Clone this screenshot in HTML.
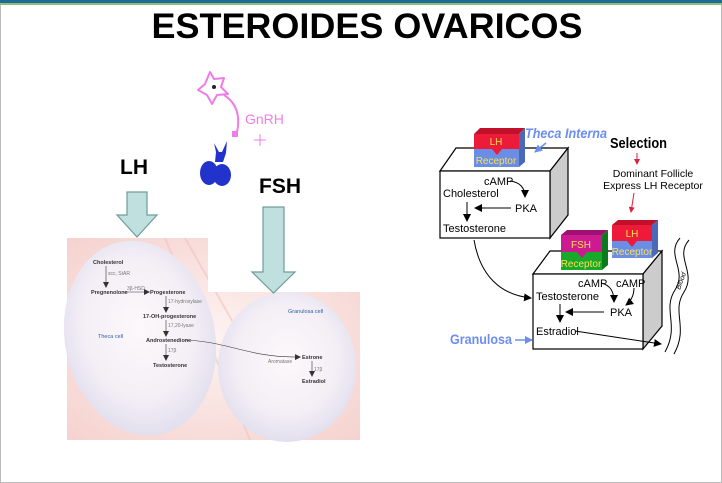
<!DOCTYPE html>
<html><head><meta charset="utf-8"><style>
html,body{margin:0;padding:0;background:#fff;}
svg{display:block;font-family:"Liberation Sans",sans-serif;}
</style></head><body>
<svg width="722" height="483" viewBox="0 0 722 483" xmlns="http://www.w3.org/2000/svg">
<defs>
<radialGradient id="bg" cx="0.5" cy="0.5" r="0.7"><stop offset="0" stop-color="#fdf3f1"/><stop offset="1" stop-color="#f5d2cf"/></radialGradient>
<radialGradient id="cell" cx="0.5" cy="0.45" r="0.6"><stop offset="0" stop-color="#fdf8fa"/><stop offset="0.6" stop-color="#f4eff6"/><stop offset="0.9" stop-color="#e3e0ef"/><stop offset="1" stop-color="#d6d4e8"/></radialGradient>
<marker id="ah" markerWidth="8" markerHeight="8" refX="7" refY="4" orient="auto" markerUnits="userSpaceOnUse"><path d="M0,0 L8,4 L0,8 z" fill="#000"/></marker>
<marker id="ahs" markerWidth="6" markerHeight="6" refX="5" refY="3" orient="auto" markerUnits="userSpaceOnUse"><path d="M0,0 L6,3 L0,6 z" fill="#333"/></marker>
<marker id="ahr" markerWidth="6" markerHeight="6" refX="5" refY="3" orient="auto" markerUnits="userSpaceOnUse"><path d="M0,0 L6,3 L0,6 z" fill="#e0203a"/></marker>
<marker id="ahb" markerWidth="8" markerHeight="8" refX="7" refY="4" orient="auto" markerUnits="userSpaceOnUse"><path d="M0,0 L8,4 L0,8 z" fill="#6b8ef0"/></marker>
</defs>
<rect x="0.5" y="0.5" width="721" height="482" fill="#fff" stroke="#bbb"/>
<rect x="0" y="0" width="722" height="3" fill="#1f6a9a"/>
<rect x="0" y="3" width="722" height="2" fill="#8cc06a"/>
<text x="367" y="38" font-size="35" font-weight="bold" text-anchor="middle" textLength="431" lengthAdjust="spacingAndGlyphs">ESTEROIDES OVARICOS</text>

<!-- left image -->
<rect x="67" y="238" width="293" height="202" fill="url(#bg)"/>
<path d="M165 238 L250 440 M185 238 L300 440" stroke="#f2c4c1" stroke-width="2" opacity="0.6"/>
<ellipse cx="140" cy="338" rx="75" ry="98" fill="url(#cell)" transform="rotate(-12 140 338)"/>
<ellipse cx="287" cy="367" rx="69" ry="75" fill="url(#cell)"/>
<rect x="208" y="238" width="152" height="54" fill="#fff"/>
<g font-size="5.5" fill="#333" font-weight="bold">
<text x="93" y="264">Cholesterol</text>
<text x="91" y="294">Pregnenolone</text>
<text x="150" y="294">Progesterone</text>
<text x="143" y="318">17-OH-progesterone</text>
<text x="146" y="342">Androstenedione</text>
<text x="153" y="367">Testosterone</text>
<text x="302" y="359">Estrone</text>
<text x="302" y="383">Estradiol</text>
</g>
<g font-size="5" fill="#777">
<text x="108" y="275">scc, StAR</text><text x="127" y="290">3β-HSD</text>
<text x="168" y="303">17-hydroxylase</text><text x="168" y="327">17,20-lyase</text>
<text x="168" y="352">17β</text><text x="268" y="363">Aromatase</text><text x="314" y="371">17β</text>
</g>
<g font-size="5.5" fill="#2a5ea8"><text x="98" y="338">Theca cell</text><text x="288" y="313">Granulosa cell</text></g>
<g stroke="#333" stroke-width="0.6" fill="none" marker-end="url(#ahs)">
<path d="M106 266 V287"/><path d="M124 292 H149"/><path d="M166 296 V312"/><path d="M166 320 V336"/><path d="M166 344 V360"/><path d="M312 361 V376"/>
<path d="M186 340 C230 342 250 358 300 357"/>
</g>

<!-- neuron -->
<g stroke="#f07ce8" stroke-width="2" fill="none" stroke-linejoin="round">
<path d="M210 72 L214 79 L224 78 L221 87 L228 94 L217 95 L212 104 L207 95 L198 90 L205 84 Z"/>
<path d="M224 95 C238 104 240 118 237 132"/>
<path d="M254 140 H266 M260 134 V146" stroke-width="1"/>
</g>
<circle cx="214" cy="87" r="2" fill="#222"/>
<rect x="232" y="131" width="6" height="6" fill="#f07ce8"/>
<text x="245" y="124" font-size="14" fill="#f07ce8">GnRH</text>
<g fill="#2233cc">
<path d="M214 143 L219 152 L222 152 L227 141 L226 153 L223 162 L215 162 L216 152 Z"/>
<ellipse cx="209" cy="173" rx="9" ry="12"/>
<ellipse cx="222" cy="175" rx="9" ry="11"/>
</g>

<text x="120" y="174" font-size="21" font-weight="bold">LH</text>
<text x="259" y="193" font-size="21" font-weight="bold">FSH</text>
<path d="M127 192 H147 V215 H157 L137 237 L117 215 H127 Z" fill="#bfe0de" stroke="#6f9c9a" stroke-width="1.2"/>
<path d="M263 207 H284 V272 H295 L273.5 293 L252 272 H263 Z" fill="#bfe0de" stroke="#6f9c9a" stroke-width="1.2"/>

<!-- right diagram: theca box -->
<g stroke="#000" stroke-width="1.2">
<path d="M440 171 L456 148 L568 148 L550 171 Z" fill="#fff"/>
<path d="M550 171 L568 148 L568 215 L550 238 Z" fill="#ccc"/>
<rect x="440" y="171" width="110" height="67" fill="#fff"/>
</g>
<path d="M474 134 L480 128 L525 128 L519 134 Z" fill="#c0102a"/>
<path d="M519 134 L525 128 L525 162 L519 167 Z" fill="#4a6ab8"/>
<rect x="474" y="134" width="45" height="15" fill="#ee1a3a"/>
<rect x="474" y="149" width="45" height="18" fill="#6a8ee6"/>
<path d="M492 149 L497 155 L502 149 Z" fill="#ee1a3a"/>
<text x="496" y="145" font-size="10" fill="#ffe050" text-anchor="middle">LH</text>
<text x="496" y="164" font-size="10" fill="#ffe050" text-anchor="middle">Receptor</text>

<text x="525" y="138" font-size="14" font-weight="bold" font-style="italic" fill="#6b8ef0" textLength="82" lengthAdjust="spacingAndGlyphs">Theca Interna</text>
<path d="M546 143 L535 152" stroke="#6b8ef0" stroke-width="1.5" marker-end="url(#ahb)"/>
<text x="610" y="148" font-size="15" font-weight="bold" textLength="57" lengthAdjust="spacingAndGlyphs">Selection</text>
<path d="M637 153 V164" stroke="#e0203a" stroke-width="1" marker-end="url(#ahr)"/>
<text x="653" y="177" font-size="10.5" text-anchor="middle">Dominant Follicle</text>
<text x="653" y="189" font-size="10.5" text-anchor="middle">Express LH Receptor</text>
<path d="M634 193 L631 212" stroke="#e0203a" stroke-width="1" marker-end="url(#ahr)"/>

<g font-size="11">
<text x="484" y="185">cAMP</text>
<text x="443" y="197">Cholesterol</text>
<text x="515" y="212">PKA</text>
<text x="443" y="232">Testosterone</text>
</g>
<g stroke="#000" stroke-width="1" fill="none" marker-end="url(#ah)">
<path d="M510 181 C520 182 525 188 525 197"/>
<path d="M511 208 H475"/>
<path d="M467 202 V221"/>
</g>

<!-- granulosa box -->
<g stroke="#000" stroke-width="1.2">
<path d="M533 274 L550 251 L662 251 L643 274 Z" fill="#fff"/>
<path d="M643 274 L662 251 L662 326 L643 349 Z" fill="#ccc"/>
<rect x="533" y="274" width="110" height="75" fill="#fff"/>
</g>
<path d="M561 235 L567 230 L608 230 L602 235 Z" fill="#a01070"/>
<path d="M602 235 L608 230 L608 265 L602 270 Z" fill="#0a7a1a"/>
<rect x="561" y="235" width="41" height="17" fill="#cc1a90"/>
<rect x="561" y="252" width="41" height="18" fill="#18a82a"/>
<path d="M577 252 L582 258 L587 252 Z" fill="#cc1a90"/>
<text x="581" y="248" font-size="10" fill="#ffe050" text-anchor="middle">FSH</text>
<text x="581" y="267" font-size="10" fill="#ffe050" text-anchor="middle">Receptor</text>
<path d="M612 225 L618 220 L658 220 L652 225 Z" fill="#c0102a"/>
<path d="M652 225 L658 220 L658 253 L652 258 Z" fill="#4a6ab8"/>
<rect x="612" y="225" width="40" height="16" fill="#ee1a3a"/>
<rect x="612" y="241" width="40" height="17" fill="#6a8ee6"/>
<path d="M627 241 L632 247 L637 241 Z" fill="#ee1a3a"/>
<text x="632" y="237" font-size="10" fill="#ffe050" text-anchor="middle">LH</text>
<text x="632" y="255" font-size="10" fill="#ffe050" text-anchor="middle">Receptor</text>

<g font-size="11">
<text x="578" y="287">cAMP</text>
<text x="616" y="287">cAMP</text>
<text x="536" y="300">Testosterone</text>
<text x="610" y="316">PKA</text>
<text x="536" y="335">Estradiol</text>
</g>
<g stroke="#000" stroke-width="1" fill="none" marker-end="url(#ah)">
<path d="M601 283 C610 285 614 291 614 302"/>
<path d="M634 288 C634 296 630 302 626 305"/>
<path d="M604 312 H566"/>
<path d="M560 304 V322"/>
<path d="M575 331 L661 344"/>
<path d="M474 240 C480 275 500 295 531 298"/>
</g>
<text x="450" y="344" font-size="14" font-weight="bold" fill="#6b8ef0" textLength="62" lengthAdjust="spacingAndGlyphs">Granulosa</text>
<path d="M515 340 H532" stroke="#6b8ef0" stroke-width="1.5" marker-end="url(#ahb)"/>
<g stroke="#000" stroke-width="1" fill="none">
<path d="M680 238 C665 255 688 270 675 290 C662 310 680 325 665 352"/>
<path d="M689 240 C674 257 697 272 684 292 C671 312 689 327 674 354"/>
</g>
<text x="680" y="290" font-size="7" font-style="italic" transform="rotate(-70 680 290)">Blood</text>
</svg>
</body></html>
